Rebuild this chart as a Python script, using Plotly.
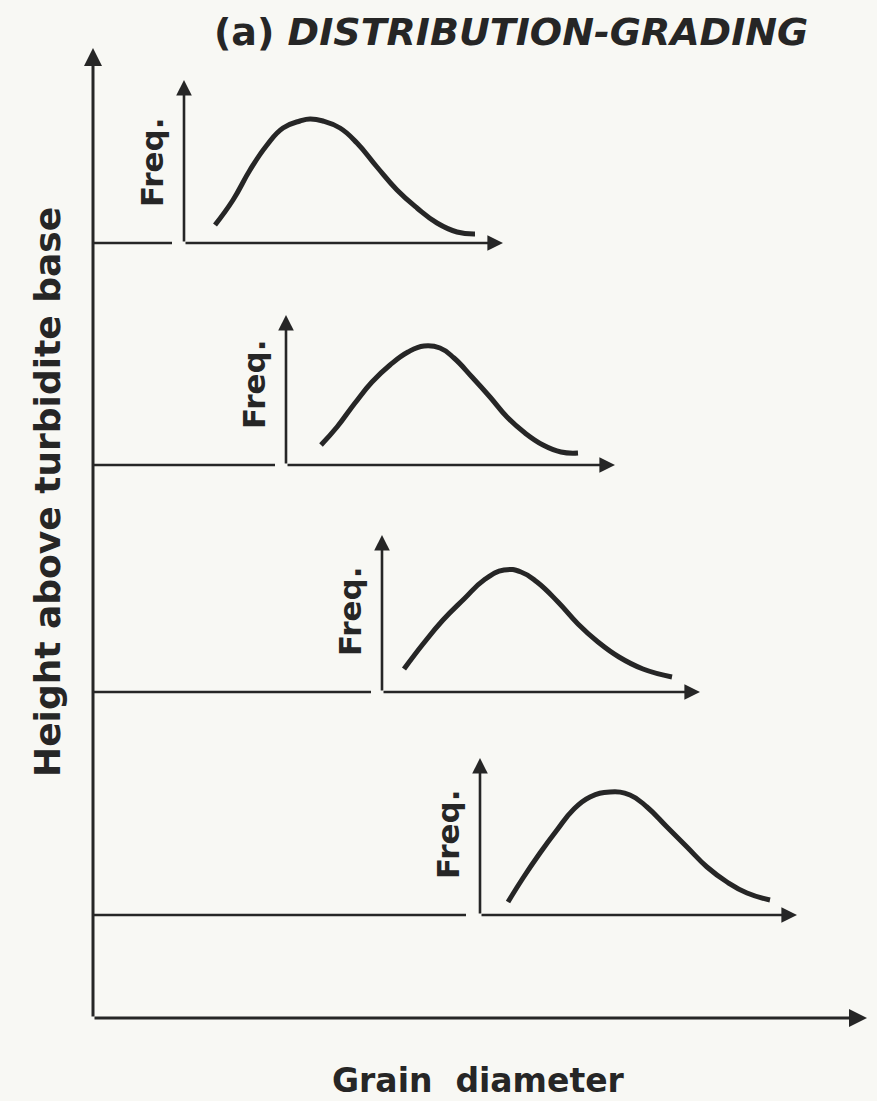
import plotly.graph_objects as go

# height of each sample above the turbidite base, and the grain diameter
# where its little frequency plot starts
levels = [775, 553, 326, 103]
starts = [91, 193, 289, 387]
freq_len = [163, 150, 157, 157]
diam_len = [319, 329, 318, 317]
stub_end = [79, 182, 278, 373]

# grain-size curves: diameter measured from the little axis, frequency above its base
d1 = [31, 49, 66, 83, 99, 116, 126, 139, 156, 173, 193, 213, 233, 253, 273, 291]
f1 = [18, 43, 73, 98, 115, 122, 124, 122, 115, 100, 76, 53, 35, 20, 11, 9]
d2 = [35, 51, 69, 86, 104, 122, 138, 154, 168, 186, 204, 221, 239, 257, 275, 292]
f2 = [20, 38, 62, 83, 100, 113, 119, 117, 107, 88, 68, 48, 32, 20, 13, 12]
d3 = [22, 41, 61, 82, 102, 122, 139, 155, 176, 196, 216, 237, 261, 290]
f3 = [23, 48, 72, 93, 112, 122, 120, 110, 90, 68, 50, 35, 23, 15]
d4 = [28, 43, 60, 77, 93, 110, 130, 150, 167, 187, 207, 227, 247, 267, 290]
f4 = [13, 37, 62, 85, 105, 118, 123, 120, 108, 88, 68, 48, 33, 22, 15]
curves = [(d1, f1), (d2, f2), (d3, f3), (d4, f4)]

x_max = 774
y_max = 970

INK = '#262626'
BG = '#f8f8f4'
FONT = 'DejaVu Sans'

fig = go.Figure()


def arrow(x0, y0, x1, y1, w=2.6):
    fig.add_annotation(x=x1, y=y1, ax=x0, ay=y0,
                       xref='x', yref='y', axref='x', ayref='y',
                       text='', showarrow=True, arrowhead=2, arrowsize=1.2,
                       arrowwidth=w, arrowcolor=INK, standoff=0)


# main axes
arrow(0, 0, 0, y_max, 3)
arrow(0, 0, x_max, 0, 3)

for i, (d, f) in enumerate(curves):
    lev = levels[i]
    x0 = starts[i]
    fig.add_trace(go.Scatter(x=[x0 + v for v in d], y=[lev + v for v in f],
                             mode='lines',
                             line=dict(color=INK, width=5, shape='spline', smoothing=1.3),
                             hoverinfo='skip', showlegend=False))
    # tick from the main axis to the sample level
    fig.add_trace(go.Scatter(x=[0, stub_end[i]], y=[lev, lev], mode='lines',
                             line=dict(color=INK, width=2.6),
                             hoverinfo='skip', showlegend=False))
    arrow(x0, lev, x0, lev + freq_len[i])
    arrow(x0, lev, x0 + diam_len[i], lev)
    fig.add_annotation(x=x0 - 32, y=lev + 80, xref='x', yref='y',
                       text='<b>Freq.</b>', textangle=-90, showarrow=False,
                       font=dict(family=FONT, size=31, color=INK))

fig.add_annotation(x=418, y=986, xref='x', yref='y',
                   text='<b>(a) <i>DISTRIBUTION-GRADING</i></b>', showarrow=False,
                   font=dict(family=FONT, size=38, color=INK))
fig.add_annotation(x=-46, y=526, xref='x', yref='y',
                   text='<b>Height above turbidite base</b>', textangle=-90, showarrow=False,
                   font=dict(family=FONT, size=36, color=INK))
fig.add_annotation(x=385, y=-62, xref='x', yref='y',
                   text='<b>Grain  diameter</b>', showarrow=False,
                   font=dict(family=FONT, size=33, color=INK))

fig.update_layout(
    width=877, height=1101,
    margin=dict(l=0, r=0, t=0, b=0),
    paper_bgcolor=BG, plot_bgcolor=BG,
    xaxis=dict(visible=False, range=[-93, 784]),
    yaxis=dict(visible=False, range=[-83, 1018]),
    showlegend=False,
)

fig.write_html("out.html", config={'displayModeBar': False},
               post_script="document.body.style.margin='0';document.body.style.background='%s';" % BG)
